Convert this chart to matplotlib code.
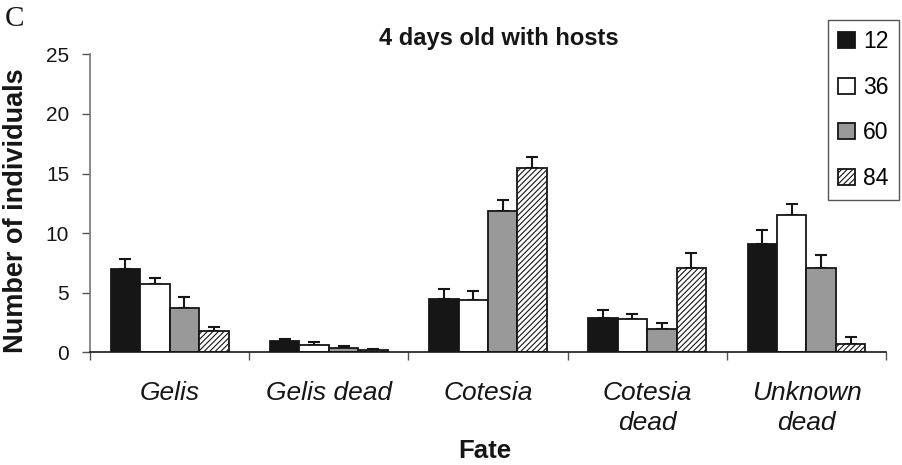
import numpy as np
import matplotlib
matplotlib.use('Agg')
import matplotlib.pyplot as plt

plt.rcParams['font.family'] = ['Liberation Sans', 'DejaVu Sans']
plt.rcParams['hatch.linewidth'] = 0.8

fates = ['Gelis', 'Gelis dead', 'Cotesia', 'Cotesia\ndead', 'Unknown\ndead']
ages = ['12', '36', '60', '84']

means_12 = [7.0, 0.92, 4.47, 2.85, 9.08]
means_36 = [5.7, 0.59, 4.4, 2.82, 11.52]
means_60 = [3.75, 0.39, 11.88, 1.95, 7.1]
means_84 = [1.8, 0.2, 15.44, 7.1, 0.7]

err_12 = [0.82, 0.18, 0.83, 0.7, 1.18]
err_36 = [0.5, 0.31, 0.75, 0.37, 0.92]
err_60 = [0.85, 0.16, 0.9, 0.51, 1.09]
err_84 = [0.3, 0.05, 0.92, 1.23, 0.56]


def main():
    fig = plt.figure(figsize=(9.03, 4.65), dpi=100)
    ax = fig.add_axes([0.0997, 0.2424, 0.8815, 0.6408])

    x = np.arange(len(fates))
    width = 0.185
    means = [means_12, means_36, means_60, means_84]
    errs = [err_12, err_36, err_60, err_84]
    colors = ['#161616', 'white', '#999999', 'white']
    hatches = [None, None, None, '//////']

    for i in range(4):
        pos = x + (i - 1.5) * width
        ax.bar(pos, means[i], width, color=colors[i], edgecolor='#161616',
               linewidth=1.3, hatch=hatches[i], label=ages[i], zorder=2)
        ax.errorbar(pos, means[i], yerr=[np.zeros(5), errs[i]], fmt='none',
                    ecolor='#161616', elinewidth=1.5, capsize=4.5, capthick=1.5,
                    zorder=1)

    ax.set_xlim(-0.5, 4.5)
    ax.set_ylim(0, 25)
    ax.set_yticks([0, 5, 10, 15, 20, 25])
    ax.tick_params(axis='y', labelsize=15, length=6, width=1, color='#555555',
                   direction='out', pad=9, labelcolor='#161616')

    ax.set_xticks(x)
    ax.set_xticklabels(fates, fontstyle='italic', fontsize=19, linespacing=1.3,
                       color='#161616')
    ax.set_xticks(np.arange(-0.5, 5, 1.0), minor=True)
    ax.tick_params(axis='x', which='major', length=0, pad=21)
    ax.tick_params(axis='x', which='minor', length=6, width=1, color='#555555',
                   direction='out')

    ax.spines['top'].set_visible(False)
    ax.spines['right'].set_visible(False)
    ax.spines['left'].set_color('#777777')
    ax.spines['left'].set_linewidth(1.2)
    ax.spines['bottom'].set_color('#161616')
    ax.spines['bottom'].set_linewidth(1.2)

    handles, labels = ax.get_legend_handles_labels()
    handles = [h[0] for h in handles]
    leg = fig.legend(handles, labels, loc='upper right',
                     bbox_to_anchor=(899 / 903, 1 - 20 / 465), fontsize=16.5,
                     fancybox=False, framealpha=1, edgecolor='#555555',
                     labelspacing=0.98, handlelength=0.75, handleheight=0.7,
                     handletextpad=0.35, borderpad=0.45, borderaxespad=0)
    leg.get_frame().set_linewidth(1.0)

    fig.text(499 / 903, 1 - 39 / 465, '4 days old with hosts', fontsize=17,
             fontweight='bold', ha='center', va='center', color='#161616')
    fig.text(16 / 903, 1 - 211 / 465, 'Number of individuals', fontsize=19.5,
             fontweight='bold', rotation=90, ha='center', va='center',
             color='#161616')
    fig.text(485 / 903, 1 - 451 / 465, 'Fate', fontsize=18.5,
             fontweight='bold', ha='center', va='center', color='#161616')
    fig.text(5 / 903, 1 - 19 / 465, 'C', fontsize=21, family='Liberation Serif',
             ha='left', va='center', color='#161616')

    fig.savefig('out.png', dpi=100)


if __name__ == "__main__":
    main()
